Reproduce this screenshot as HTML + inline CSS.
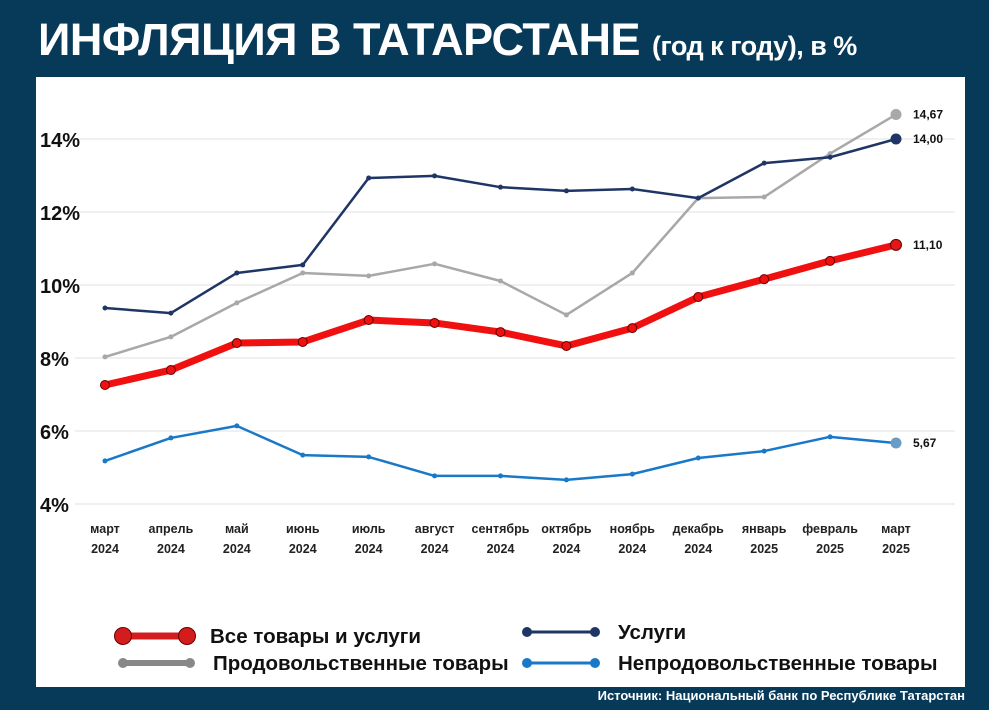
<!DOCTYPE html>
<html><head><meta charset="utf-8"><style>
body{margin:0;width:989px;height:710px;background:#063a58;font-family:"Liberation Sans","DejaVu Sans",sans-serif;overflow:hidden;position:relative}
.t{position:absolute;left:38px;top:14px;color:#fff;font-weight:bold;font-size:45px;letter-spacing:-0.5px;white-space:nowrap}
.t span{font-size:27px}
.src{position:absolute;right:24px;top:688px;color:#fff;font-size:13px;font-weight:bold}
svg{position:absolute;left:0;top:0}
</style></head><body>
<div class="t">ИНФЛЯЦИЯ В ТАТАРСТАНЕ <span>(год к году), в %</span></div>
<svg id="c" width="989" height="710"></svg>
<div class="src">Источник: Национальный банк по Республике Татарстан</div>
<script>
const months=["март","апрель","май","июнь","июль","август","сентябрь","октябрь","ноябрь","декабрь","январь","февраль","март"];
const years=["2024","2024","2024","2024","2024","2024","2024","2024","2024","2024","2025","2025","2025"];
const yTicks=[4,6,8,10,12,14];
const allGoods=[7.26,7.67,8.41,8.44,9.04,8.96,8.71,8.33,8.82,9.67,10.16,10.66,11.10];
const services=[9.37,9.23,10.33,10.55,12.93,12.99,12.68,12.58,12.63,12.38,13.34,13.50,14.00];
const food=[8.03,8.58,9.51,10.33,10.25,10.58,10.11,9.18,10.33,12.38,12.41,13.60,14.67];
const nonFood=[5.18,5.81,6.14,5.34,5.29,4.77,4.77,4.66,4.82,5.26,5.45,5.84,5.67];
const endLabels=["11,10","14,00","14,67","5,67"];
const NS="http://www.w3.org/2000/svg";
const svg=document.getElementById('c');
function el(t,a,p){const e=document.createElementNS(NS,t);for(const k in a)e.setAttribute(k,a[k]);(p||svg).appendChild(e);return e;}
const x=i=>105+i*(896-105)/12;
const y=v=>504-(v-4)*36.5;
const panel=el('rect',{x:36,y:77,width:929,height:610,fill:'#fff'});


yTicks.forEach(v=>{
 const g=el('line',{x1:75,x2:955,y1:y(v),y2:y(v),stroke:'#e2e2e2','stroke-width':1});
 
 
 const t=el('text',{x:40,y:y(v)+8,'font-size':20,'font-weight':'bold',fill:'#111'});
 t.textContent=v+'%';
 
 
});
months.forEach((m,i)=>{
 const t=el('text',{x:x(i),y:533,'font-size':12.5,'font-weight':'bold','text-anchor':'middle',fill:'#222'});
 t.textContent=m;
 
 
 const t2=el('text',{x:x(i),y:553,'font-size':12.5,'font-weight':'bold','text-anchor':'middle',fill:'#222'});
 t2.textContent=years[i];
 
 
});
function series(d,col,w,r,name,lab,endCol,endR){
 const p=el('polyline',{points:d.map((v,i)=>x(i)+','+y(v)).join(' '),fill:'none',stroke:col,'stroke-width':w,'stroke-linejoin':'round'});
 
 
 d.forEach((v,i)=>{
  const last=i===d.length-1;
  const c=el('circle',{cx:x(i),cy:y(v),r:last?endR:r,fill:last?endCol:col,stroke:name==='all-goods'?'#600':'none','stroke-width':1});
  
  
 });
 const t=el('text',{x:913,y:y(d[d.length-1])+4,'font-size':12,'font-weight':'bold',fill:'#111'});
 t.textContent=lab;
 
 
}
series(nonFood,'#1a78c8',2.5,2.5,'non-food',endLabels[3],'#6a9cc8',5.5);
series(food,'#a8a8a8',2.5,2.5,'food',endLabels[2],'#a8a8a8',5.5);
series(services,'#1e3565',2.5,2.5,'services',endLabels[1],'#1e3565',5.5);
series(allGoods,'#f01010',7,4.5,'all-goods',endLabels[0],'#e01818',5.5);
const leg=[[123,187,636,'#d41c1c',7,8.5,'Все товары и услуги','legend-all-goods'],[123,190,663,'#888',6,5,'Продовольственные товары','legend-food'],[527,595,632,'#1e3565',3,5,'Услуги','legend-services'],[527,595,663,'#1a78c8',3,5,'Непродовольственные товары','legend-non-food']];
leg.forEach(l=>{
 const g=el('g',{});
 
 
 el('line',{x1:l[0],x2:l[1],y1:l[2],y2:l[2],stroke:l[3],'stroke-width':l[4]},g);
 el('circle',{cx:l[0],cy:l[2],r:l[5],fill:l[3],stroke:l[5]>8?'#600':'none'},g);
 el('circle',{cx:l[1],cy:l[2],r:l[5],fill:l[3],stroke:l[5]>8?'#600':'none'},g);
 const t=el('text',{x:l[1]+23,y:l[2]+7,'font-size':20.5,'font-weight':'bold',fill:'#111'},g);
 t.textContent=l[6];
});
</script>
</body></html>
